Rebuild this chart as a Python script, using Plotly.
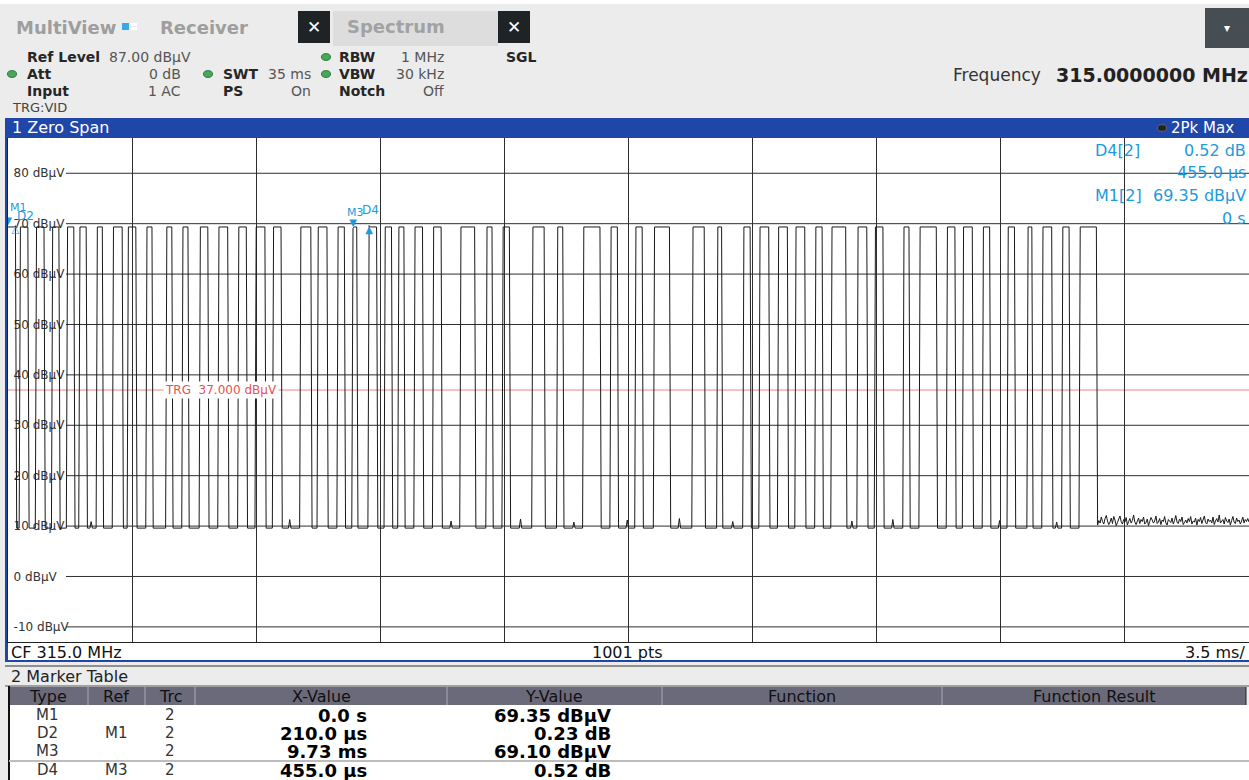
import plotly.graph_objects as go

W, H = 1249, 780

# ---- captured burst: pulse on/off times (ms) ----
pulse_start_ms = [0.00, 0.34, 0.79, 1.24, 1.66, 2.03, 2.51, 2.96, 3.38, 3.92,
                  4.46, 4.91, 5.41, 5.92, 6.49, 6.97, 7.47, 8.24, 8.74, 9.28,
                  9.70, 10.16, 10.63, 11.00, 11.48, 11.99, 12.75, 13.51, 13.96, 14.78,
                  15.48, 16.22, 16.98, 17.71, 18.22, 19.29, 19.99, 20.73, 21.21, 21.72,
                  22.20, 22.76, 23.24, 23.97, 24.45, 25.24, 25.72, 26.48, 26.93, 27.50,
                  28.20, 28.74, 29.19, 29.72, 30.23]
pulse_end_ms = [0.24, 0.56, 1.02, 1.47, 1.86, 2.23, 2.68, 3.22, 3.61, 4.09,
                4.65, 5.08, 5.64, 6.20, 6.74, 7.25, 7.73, 8.57, 9.02, 9.50,
                9.87, 10.40, 10.83, 11.20, 11.70, 12.24, 13.17, 13.68, 14.16, 15.15,
                15.65, 16.70, 17.20, 17.91, 18.67, 19.66, 20.16, 20.95, 21.49, 22.00,
                22.48, 22.96, 23.66, 24.23, 24.68, 25.44, 26.20, 26.71, 27.22, 27.69,
                28.40, 28.91, 29.44, 29.95, 30.71]
high_level_dbuv = 69.35
floor_level_dbuv = 9.6
bump_time_ms = [2.35, 7.95, 12.50, 14.45, 15.95, 17.45, 18.95, 20.45, 23.80, 24.95, 27.95, 29.58]
bump_level_dbuv = [10.9, 11.3, 11.0, 11.4, 10.8, 11.2, 11.5, 10.9, 11.0, 11.3, 11.1, 10.8]
tail_noise_dbuv = [10.2, 11.1, 10.6, 11.8, 10.9, 10.4, 11.5, 12.1, 11.0, 10.3,
                   10.8, 11.6, 10.5, 11.9, 11.2, 10.1, 10.7, 11.4, 12.0, 10.9,
                   10.4, 11.3, 10.8, 11.7, 10.2, 10.9, 11.5, 10.6, 11.1, 12.2,
                   10.8, 10.3, 11.0, 11.6, 10.5, 11.3, 10.9, 11.8, 10.4, 10.7,
                   11.4, 10.1, 10.9, 11.7, 11.2, 10.6, 11.0, 12.0, 10.5, 10.8,
                   11.5, 10.3, 11.2, 10.9, 11.9, 10.6, 10.2, 11.3, 11.0, 10.7,
                   11.6, 10.4, 11.1, 12.1, 10.8, 10.5, 11.4, 10.9, 11.8, 10.3,
                   10.7, 11.2, 10.6, 11.5, 10.9, 11.9, 10.4, 11.0, 10.8, 11.6,
                   10.2, 11.3, 10.9, 11.7, 10.5, 11.1, 12.0, 10.7, 10.4, 11.4,
                   10.9, 11.2, 10.6, 11.8, 10.3, 11.0, 11.5, 10.8, 12.2, 10.6,
                   10.9, 11.3, 10.4, 11.7, 11.0, 10.7, 11.4, 10.2, 11.1, 11.9,
                   10.8, 10.5, 11.6, 10.9, 11.2, 10.4, 11.0, 11.8, 10.6, 11.3,
                   10.9, 11.5, 10.8]

sweep_time_ms = 35.0
n_points = 1001
trigger_level_dbuv = 37.0

# ---- markers ----
marker_names = ["M1", "D2", "M3", "D4"]
marker_ref = ["", "M1", "", "M3"]
marker_trace = ["2", "2", "2", "2"]
marker_time_ms = [0.0, 0.21, 9.73, 10.185]
marker_level_dbuv = [69.35, 69.58, 69.10, 69.62]
marker_x_text = ["0.0 s", "210.0 µs", "9.73 ms", "455.0 µs"]
marker_y_text = ["69.35 dBµV", "0.23 dB", "69.10 dBµV", "0.52 dB"]

ytick_vals = [80, 70, 60, 50, 40, 30, 20, 10, 0, -10]
ytick_text = [f"{v} dBµV" for v in ytick_vals]
xtick_vals = [i * 3.5 for i in range(11)]

MK_BLUE = "#1d9ade"
BAR_BLUE = "#1f46a9"
GRID = "#2e2e2e"


def px(x):
    return x / W


def py(y):
    return 1 - y / H


# ---- build the zero-span trace ----
dt = sweep_time_ms / (n_points - 1)
t = [i * dt for i in range(n_points)]
level = []
for ti in t:
    on = any(s <= ti <= e for s, e in zip(pulse_start_ms, pulse_end_ms))
    level.append(high_level_dbuv if on else floor_level_dbuv)
for bt, bl in zip(bump_time_ms, bump_level_dbuv):
    level[round(bt / dt)] = bl
last_edge = max(pulse_end_ms)
tail_idx = [i for i, ti in enumerate(t) if ti > last_edge]
for i, v in zip(tail_idx, tail_noise_dbuv):
    level[i] = v
for mt, ml in zip(marker_time_ms, marker_level_dbuv):
    level[round(mt / dt)] = ml

fig = go.Figure()
fig.add_trace(go.Scatter(x=t, y=level, mode="lines",
                         line=dict(color="#1a1a1a", width=1), hoverinfo="skip"))

# marker symbols on the trace
sym = {"M1": "▼", "D2": "△", "M3": "▼", "D4": "▲"}
pos = {"M1": "top center", "D2": "bottom center", "M3": "top center", "D4": "bottom center"}
for n, mt, ml in zip(marker_names, marker_time_ms, marker_level_dbuv):
    fig.add_trace(go.Scatter(x=[mt], y=[ml], mode="text", text=[sym[n]],
                             textposition=pos[n],
                             textfont=dict(color=MK_BLUE, size=10, family="DejaVu Sans"),
                             hoverinfo="skip"))

shapes = []
ann = []


def rect(x0, y0, x1, y1, fill, line=None, layer="below"):
    shapes.append(dict(type="rect", xref="paper", yref="paper",
                       x0=px(x0), x1=px(x1), y0=py(y1), y1=py(y0),
                       fillcolor=fill, line=dict(width=0) if line is None else line,
                       layer=layer))


def hline(x0, x1, y, color, width=1, layer="above"):
    shapes.append(dict(type="line", xref="paper", yref="paper",
                       x0=px(x0), x1=px(x1), y0=py(y), y1=py(y),
                       line=dict(color=color, width=width), layer=layer))


def vline(x, y0, y1, color, width=1, layer="above"):
    shapes.append(dict(type="line", xref="paper", yref="paper",
                       x0=px(x), x1=px(x), y0=py(y0), y1=py(y1),
                       line=dict(color=color, width=width), layer=layer))


def dot(x, y, r, fill, edge):
    shapes.append(dict(type="circle", xref="paper", yref="paper",
                       x0=px(x - r), x1=px(x + r), y0=py(y + r * 0.75), y1=py(y - r * 0.75),
                       fillcolor=fill, line=dict(color=edge, width=1), layer="above"))


def txt(x, y, s, size=14, color="#222", anchor="left", bold=False,
        family="DejaVu Sans", bg=None):
    a = dict(xref="paper", yref="paper", x=px(x), y=py(y),
             text=f"<b>{s}</b>" if bold else s, showarrow=False,
             xanchor=anchor, yanchor="middle", borderpad=0,
             font=dict(size=size, color=color, family=family))
    if bg:
        a["bgcolor"] = bg
    ann.append(a)


# ---- header / tab bar ----
rect(0, 0, W, 4, "white")
rect(333, 11, 498, 46, "#dddddd")
rect(298, 11, 330, 43, "#1f2326")
rect(498, 11, 530, 43, "#1f2326")
rect(1205, 8, W, 48, "#464e53")
rect(122, 23, 129, 30, "#3aa8e8")
rect(131, 23, 137, 26, "white")
rect(131, 27, 137, 30, "white")
txt(15, 28, "MultiView", 18, "#9e9e9e", bold=True)
txt(159, 28, "Receiver", 18, "#9e9e9e", bold=True)
txt(346, 27, "Spectrum", 18, "#a2a2a2", bold=True)
txt(314, 27, "✕", 17, "white", anchor="center", bold=True)
txt(514, 27, "✕", 17, "white", anchor="center", bold=True)
txt(1227, 28, "▾", 12, "white", anchor="center")

GREEN = "#45a85a"
dot(12, 74, 4.5, GREEN, "#2f7a40")
dot(208, 74, 4.5, GREEN, "#2f7a40")
dot(326, 57, 4.5, GREEN, "#2f7a40")
dot(326, 74, 4.5, GREEN, "#2f7a40")

LBL = "#262626"
VAL = "#555555"
txt(26, 57, "Ref Level", 14, LBL, bold=True)
txt(108, 57, "87.00 dBµV", 14, VAL)
txt(338, 57, "RBW", 14, LBL, bold=True)
txt(445, 57, "1 MHz", 14, VAL, anchor="right")
txt(505, 57, "SGL", 14, LBL, bold=True)
txt(26, 74, "Att", 14, LBL, bold=True)
txt(182, 74, "0 dB", 14, VAL, anchor="right")
txt(222, 74, "SWT", 14, LBL, bold=True)
txt(312, 74, "35 ms", 14, VAL, anchor="right")
txt(338, 74, "VBW", 14, LBL, bold=True)
txt(445, 74, "30 kHz", 14, VAL, anchor="right")
txt(26, 91, "Input", 14, LBL, bold=True)
txt(182, 91, "1 AC", 14, VAL, anchor="right")
txt(222, 91, "PS", 14, LBL, bold=True)
txt(312, 91, "On", 14, VAL, anchor="right")
txt(338, 91, "Notch", 14, LBL, bold=True)
txt(445, 91, "Off", 14, VAL, anchor="right")
txt(11, 108, "TRG:VID", 13, "#444444")
txt(952, 75, "Frequency", 17, "#333333")
txt(1249, 75, "315.0000000 MHz", 19, "#222222", anchor="right", bold=True)

# ---- window frame ----
rect(6, 118, W, 138, BAR_BLUE)
rect(5, 118, 8, 662, BAR_BLUE)
txt(11, 128, "1 Zero Span", 16, "white")
dot(1162, 128, 4.5, "#222222", "#666666")
txt(1170, 128, "2Pk Max", 15, "white")

# bottom info bar
rect(8, 643, W, 660, "white")
rect(5, 660, W, 662, BAR_BLUE)
txt(10, 652, "CF 315.0 MHz", 16, "#111111")
txt(627, 652, f"{n_points} pts", 16, "#111111", anchor="center")
txt(1246, 652, f"{sweep_time_ms / 10:g} ms/", 16, "#111111", anchor="right")

# ---- marker table ----
rect(5, 666, W, 686, "#ececec")
hline(5, W, 666, "#333333", 1)
hline(5, W, 686, "#555555", 1)
txt(10, 676, "2 Marker Table", 16, "#222222")
rect(9, 687, 1246, 705, "#6b6a7b")
rect(9, 705, W, 780, "white")
vline(9, 686, 780, "#111111", 2)
vline(1246, 687, 705, "#222222", 1)
col_edges = [88, 145, 195, 447, 662, 942]
for ce in col_edges:
    vline(ce, 687, 705, "#a9a9b6", 1)
hline(9, W, 761, "#bdbdbd", 2)
headers = [("Type", 48), ("Ref", 116), ("Trc", 170), ("X-Value", 321),
           ("Y-Value", 554), ("Function", 802), ("Function Result", 1094)]
for h, cx in headers:
    txt(cx, 696, h, 16, "#111111", anchor="center")
row_y = [715, 733, 751, 770]
for ry, n, r, tr, xv, yv in zip(row_y, marker_names, marker_ref, marker_trace,
                                marker_x_text, marker_y_text):
    txt(47, ry, n, 15, "#333333", anchor="center")
    if r:
        txt(116, ry, r, 15, "#333333", anchor="center")
    txt(170, ry, tr, 15, "#333333", anchor="center")
    txt(368, ry, xv, 18, "#000000", anchor="right", bold=True)
    txt(612, ry, yv, 18, "#000000", anchor="right", bold=True)

# ---- marker readouts in the diagram ----
txt(1094, 151, "D4[2]", 16, MK_BLUE)
txt(1247, 151, marker_y_text[3], 16, MK_BLUE, anchor="right")
txt(1247, 172, marker_x_text[3], 16, MK_BLUE, anchor="right")
txt(1094, 195, "M1[2]", 16, MK_BLUE)
txt(1247, 195, marker_y_text[0], 16, MK_BLUE, anchor="right")
txt(1247, 218, "0 s", 16, MK_BLUE, anchor="right")

# marker name labels beside the symbols
label_off = {"M1": (0, 19, "left"), "D2": (0, 10, "left"),
             "M3": (-8, 16, "left"), "D4": (-9, 16, "left")}
for n, mt, ml in zip(marker_names, marker_time_ms, marker_level_dbuv):
    dx, dy, xa = label_off[n]
    ann.append(dict(xref="x", yref="y", x=mt, y=ml, text=n, showarrow=False,
                    xanchor=xa, yanchor="middle", xshift=dx, yshift=dy,
                    font=dict(size=12 if n[0] == "D" else 11, color=MK_BLUE,
                              family="DejaVu Sans")))

# level grid lines start after the level labels
for v in ytick_vals:
    shapes.append(dict(type="line", xref="paper", yref="y",
                       x0=px(66), x1=1, y0=v, y1=v,
                       line=dict(color=GRID, width=1), layer="below"))

# trigger level line and label
shapes.append(dict(type="line", xref="paper", yref="y", x0=px(8), x1=1,
                   y0=trigger_level_dbuv, y1=trigger_level_dbuv,
                   line=dict(color="#f08484", width=1), layer="below"))
ann.append(dict(xref="paper", yref="y", x=px(163), y=trigger_level_dbuv,
                text=f"TRG  {trigger_level_dbuv:.3f} dBµV", showarrow=False,
                xanchor="left", yanchor="middle", bgcolor="white", borderpad=1,
                font=dict(size=12, color="#e85050", family="DejaVu Sans")))

fig.update_layout(
    width=W, height=H, margin=dict(l=0, r=0, t=0, b=0),
    paper_bgcolor="#ececec", plot_bgcolor="white", showlegend=False,
    xaxis=dict(domain=[px(8), 1], range=[0, sweep_time_ms], tickvals=xtick_vals,
               showticklabels=False, showgrid=True, gridcolor=GRID, gridwidth=1,
               zeroline=False, showline=True, linecolor="#222222", fixedrange=True),
    yaxis=dict(domain=[py(642), py(138)], range=[-13, 87], tickvals=ytick_vals,
               ticktext=ytick_text, ticklabelposition="inside", ticklabelstandoff=5,
               tickfont=dict(size=12, color="#333333", family="DejaVu Sans"),
               showgrid=False, zeroline=False,
               showline=True, linecolor="#222222", layer="below traces",
               fixedrange=True),
    shapes=shapes, annotations=ann,
)

fig.write_html("out.html")
